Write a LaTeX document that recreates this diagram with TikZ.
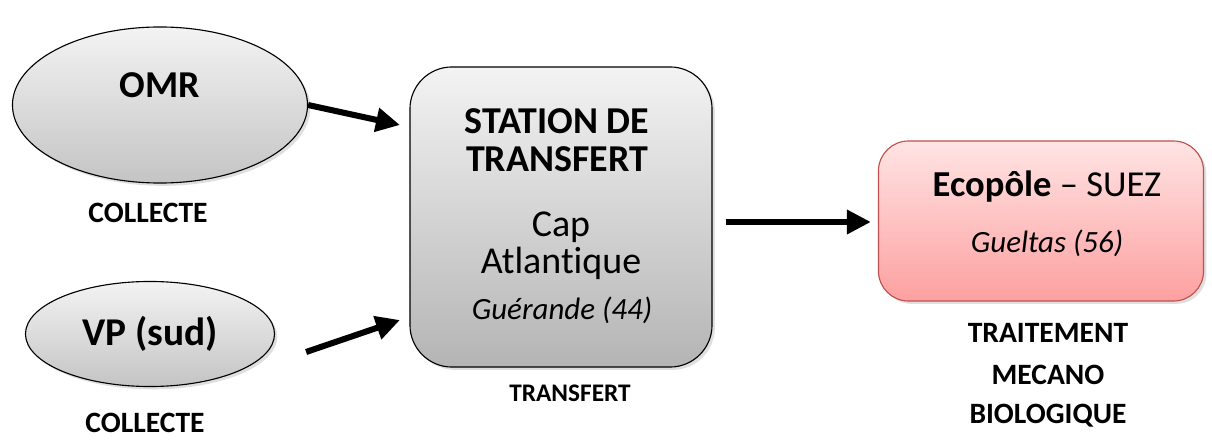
\documentclass[tikz,border=0pt]{standalone}
\usepackage{fontspec}
\setmainfont[Ligatures=NoCommon]{Carlito}
\usetikzlibrary{shapes.geometric,arrows.meta,shadows}

\begin{document}
\begin{tikzpicture}[x=0.025cm,y=-0.025cm]
% Define colors
\definecolor{greytop}{RGB}{243,243,243}
\definecolor{greybot}{RGB}{196,196,196}
\definecolor{pinktop}{RGB}{255,228,228}
\definecolor{pinkbot}{RGB}{253,160,160}
\definecolor{pinkline}{RGB}{192,80,77}

\tikzset{
  blob/.style={ellipse,draw=black,line width=0.8pt,top color=greytop,bottom color=greybot,
    drop shadow={opacity=0.25,shadow xshift=2pt,shadow yshift=-2pt}},
  stationbox/.style={rectangle,rounded corners=1.05cm,draw=black,line width=0.8pt,
    top color=greytop,bottom color=greybot!92!black,
    drop shadow={opacity=0.25,shadow xshift=2pt,shadow yshift=-2pt}},
  plantbox/.style={rectangle,rounded corners=0.75cm,draw=pinkline,line width=0.8pt,
    top color=pinktop,bottom color=pinkbot,
    drop shadow={opacity=0.25,shadow xshift=2pt,shadow yshift=-2pt}},
  bigtxt/.style={font=\fontsize{27}{31}\selectfont},
  boldtxt/.style={font=\fontsize{28}{32}\selectfont\bfseries},
  midtxt/.style={font=\fontsize{22}{26}\selectfont\itshape},
  tag/.style={font=\fontsize{21}{25}\selectfont\bfseries},
  flow/.style={line width=4.3pt,-{Triangle[length=0.6cm,width=0.58cm]}}
}

\useasboundingbox (0,0) rectangle (1212,440);

% Collecte
\node[blob,minimum width=7.375cm,minimum height=3.9cm] (omr) at (160,105) {};
\node[boldtxt,font=\fontsize{27}{31}\selectfont\bfseries] (omrtxt) at (160,85) {OMR};
\node[tag] (collecte1) at (148,213) {COLLECTE};

\node[blob,boldtxt,minimum width=6.225cm,minimum height=2.625cm] (vp) at (150,334) {VP (sud)};
\node[tag] (collecte2) at (145,423) {COLLECTE};

% Station de transfert
\node[stationbox,minimum width=7.55cm,minimum height=7.5cm] (station) at (561,217) {};
\node[font=\fontsize{27}{27}\selectfont\bfseries,align=center] (sttitle) at (557,140) {STATION DE\\TRANSFERT};
\node[bigtxt] (st3) at (561,227) {Cap};
\node[bigtxt] (st4) at (561,263) {Atlantique};
\node[midtxt] (st5) at (562,310) {Guérande (44)};
\node[tag,font=\fontsize{18}{22}\selectfont\bfseries] (transfert) at (570,393) {TRANSFERT};

% Ecopole
\node[plantbox,minimum width=8.125cm,minimum height=4cm] (ecopole) at (1041,221) {};
\node[bigtxt,font=\fontsize{26}{30}\selectfont] (eco1) at (1047,187) {\textbf{Ecopôle} – SUEZ};
\node[midtxt] (eco2) at (1047,243) {Gueltas (56)};
\node[tag] (tmb1) at (1048,333) {TRAITEMENT};
\node[tag] (tmb2) at (1048,375) {MECANO};
\node[tag] (tmb3) at (1048,416) {BIOLOGIQUE};

% Arrows
\coordinate (omrtip) at (400,125);
\coordinate (vpout) at ([shift={(31,18)}]vp.east);
\coordinate (vptip) at (400,320);
\draw[flow] (omr.east) -- (omrtip);
\draw[flow] (vpout) -- (vptip);
\draw[flow] ([shift={(13,5)}]station.east) -- ([shift={(-7,1)}]ecopole.west);

\end{tikzpicture}
\end{document}
